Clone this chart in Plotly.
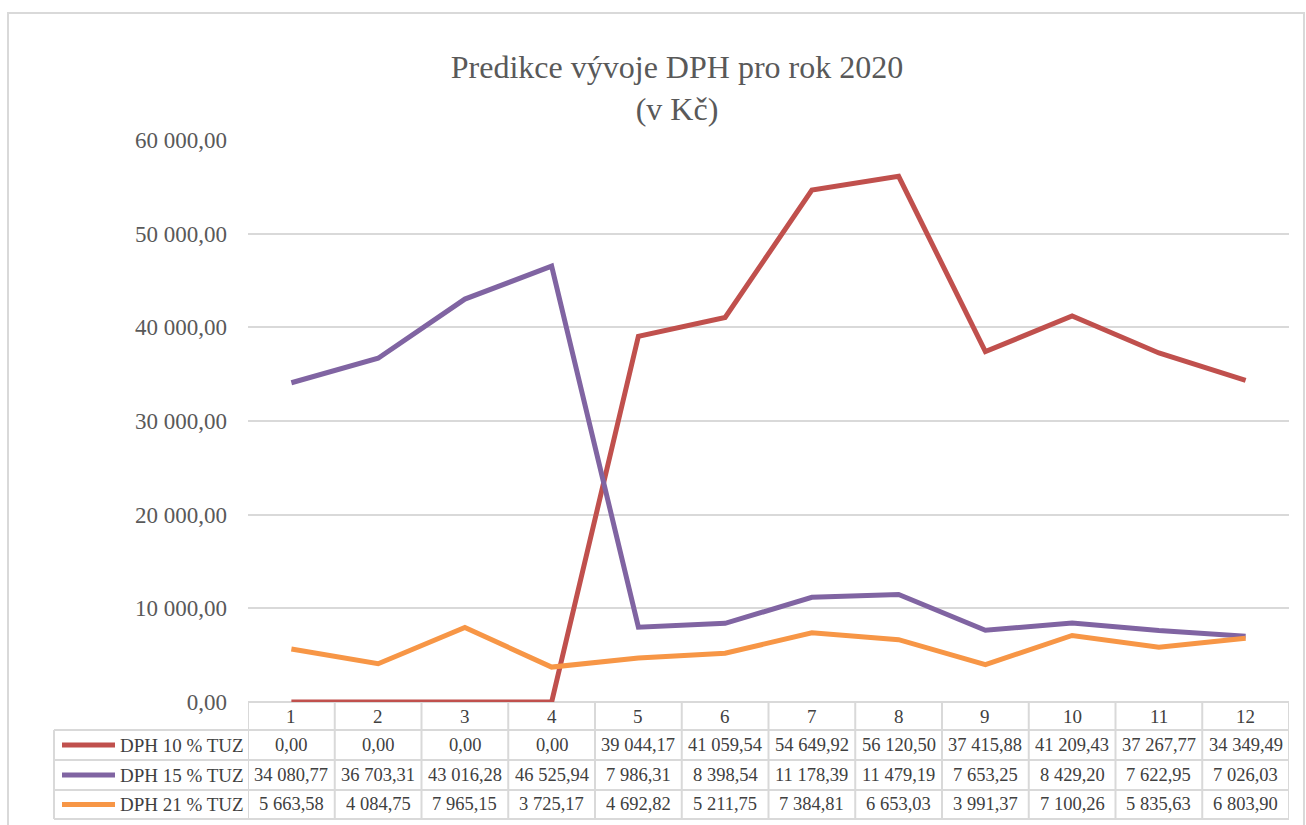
import plotly.graph_objects as go

# data
months = list(range(1, 13))
series_names = ["DPH 10 % TUZ", "DPH 15 % TUZ", "DPH 21 % TUZ"]
dph10 = [0.00, 0.00, 0.00, 0.00, 39044.17, 41059.54, 54649.92, 56120.50,
         37415.88, 41209.43, 37267.77, 34349.49]
dph15 = [34080.77, 36703.31, 43016.28, 46525.94, 7986.31, 8398.54, 11178.39,
         11479.19, 7653.25, 8429.20, 7622.95, 7026.03]
dph21 = [5663.58, 4084.75, 7965.15, 3725.17, 4692.82, 5211.75, 7384.81,
         6653.03, 3991.37, 7100.26, 5835.63, 6803.90]
colors = ["#c0504d", "#8064a2", "#f79646"]

FONT = "Liberation Serif, Tinos, Times New Roman, DejaVu Serif, serif"
GRID = "#d9d9d9"
TXT = "#404040"

# pixel geometry helpers
W, H = 1306, 825
L, R, T, B = 248, 1289, 140, 702


def px(x):
    return (x - L) / (R - L)


def py(y):
    return (B - y) / (B - T)


def fmt(v):
    return f"{v:,.2f}".replace(",", " ").replace(".", ",")


fig = go.Figure()
for name, vals, col in zip(series_names, [dph10, dph15, dph21], colors):
    fig.add_trace(go.Scatter(
        x=months, y=vals, name=name, mode="lines",
        line=dict(color=col, width=5),
        cliponaxis=False,
        showlegend=False,
    ))

shapes = []
annotations = []

# outer chart border
shapes.append(dict(type="rect", xref="paper", yref="paper",
                   x0=px(8), x1=px(1304), y0=py(840), y1=py(13),
                   line=dict(color=GRID, width=2), layer="below"))

# table rows (pixel y)
row_lines = [702, 730, 760, 790, 819]
for i, yl in enumerate(row_lines):
    x0 = px(248) if i == 0 else px(54)
    shapes.append(dict(type="line", xref="paper", yref="paper",
                       x0=x0, x1=1, y0=py(yl), y1=py(yl),
                       line=dict(color=GRID, width=2), layer="below"))
# vertical lines between months
for k in range(13):
    shapes.append(dict(type="line", xref="x", yref="paper",
                       x0=k + 0.5, x1=k + 0.5, y0=py(702), y1=py(819),
                       line=dict(color=GRID, width=2), layer="below"))
# legend column left edge
shapes.append(dict(type="line", xref="paper", yref="paper",
                   x0=px(54), x1=px(54), y0=py(730), y1=py(819),
                   line=dict(color=GRID, width=2), layer="below"))

# header row
for m in months:
    annotations.append(dict(x=m, y=py(716), xref="x", yref="paper",
                            text=str(m), showarrow=False,
                            xanchor="center", yanchor="middle",
                            font=dict(family=FONT, size=19, color=TXT)))

row_centers = [745, 775, 804.5]
for yc, name, vals, col in zip(row_centers, series_names,
                               [dph10, dph15, dph21], colors):
    shapes.append(dict(type="line", xref="paper", yref="paper",
                       x0=px(62), x1=px(115), y0=py(yc), y1=py(yc),
                       line=dict(color=col, width=5)))
    annotations.append(dict(x=px(118), y=py(yc), xref="paper", yref="paper",
                            text=name, showarrow=False,
                            xanchor="left", yanchor="middle",
                            font=dict(family=FONT, size=19, color=TXT)))
    for m, v in zip(months, vals):
        annotations.append(dict(x=m, y=py(yc), xref="x", yref="paper",
                                text=fmt(v), showarrow=False,
                                xanchor="center", yanchor="middle",
                                font=dict(family=FONT, size=18.5, color=TXT)))

fig.update_layout(
    width=W, height=H,
    paper_bgcolor="white",
    plot_bgcolor="white",
    margin=dict(l=L, r=W - R, t=T, b=H - B),
    separators=", ",
    title=dict(text="Predikce vývoje DPH pro rok 2020<br>(v Kč)",
               x=677 / W, xanchor="center", y=1 - 78 / H, yanchor="middle",
               font=dict(family=FONT, size=32, color="#595959")),
    xaxis=dict(range=[0.5, 12.5], showticklabels=False, showgrid=False,
               zeroline=False, showline=False, ticks=""),
    yaxis=dict(range=[0, 60000], dtick=10000, tickformat=",.2f",
               showgrid=True, gridcolor=GRID, gridwidth=2,
               zeroline=False, showline=False, ticks="",
               ticklabelstandoff=20,
               tickfont=dict(family=FONT, size=23, color="#595959")),
    shapes=shapes,
    annotations=annotations,
)

fig.write_html("out.html", config={"displayModeBar": False},
               post_script="document.body.style.margin='0px';")
